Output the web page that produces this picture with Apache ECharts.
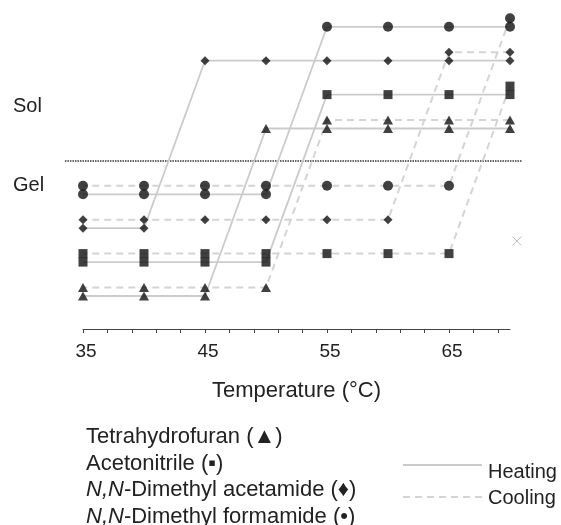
<!DOCTYPE html>
<html>
<head>
<meta charset="utf-8">
<script src="https://cdn.jsdelivr.net/npm/echarts@6/dist/echarts.min.js"></script>
<style>
  html, body { margin: 0; padding: 0; background: #fff; }
  #chart { width: 561px; height: 525px; }
</style>
</head>
<body>
<div id="chart"></div>
<script>
// solvents, bottom row first
const solvents    = ['Tetrahydrofuran', 'Acetonitrile', 'N,N-Dimethyl acetamide', 'N,N-Dimethyl formamide'];
const glyphs      = ['▲', '▪', '♦', '•'];
const symbols     = ['triangle', 'rect', 'diamond', 'circle'];

// temperatures (°C) where each state was observed
const heatGel = [[35, 40, 45], [35, 40, 45, 50], [35, 40], [35, 40, 45, 50]];
const heatSol = [[50, 55, 60, 65, 70], [55, 60, 65, 70], [45, 50, 55, 60, 65, 70], [55, 60, 65, 70]];
const coolSol = [[70, 65, 60, 55], [70], [70, 65], [70]];
const coolGel = [[50, 45, 40, 35], [65, 60, 55, 50, 45, 40, 35], [60, 55, 50, 45, 40, 35], [65, 60, 55, 50, 45, 40, 35]];

// stray mark at the right edge of the gel area
const strayMark = [[70.57, 55]];

const xTicks  = [35, 37, 39, 41, 43, 45, 47, 49, 51, 53, 55, 57, 59, 61, 63, 65, 67, 69];
const xLabels = [35, 45, 55, 65];

// vertical layout of the rows
const STATE_GAP  = 167.5;
const ROW_GAP    = 33.9;
const COOL_SHIFT = 8.5;
const DIVIDER    = 135;
const DIVIDER_SPAN = [33.52, 70.98];

function level(i, sol, cool) {
    return (sol ? STATE_GAP : 0) + i * ROW_GAP + (cool ? COOL_SHIFT : 0);
}

const symbolSizes = [[10, 9], [9, 9], [9, 9], [10, 10]];
const markColor = '#111';
const font = 'Liberation Sans, Arial, sans-serif';

const series = [];

solvents.forEach((name, i) => {
    const heat = heatGel[i].map(t => [t, level(i, 0, 0)])
        .concat(heatSol[i].map(t => [t, level(i, 1, 0)]));
    const cool = coolSol[i].map(t => [t, level(i, 1, 1)])
        .concat(coolGel[i].map(t => [t, level(i, 0, 1)]));

    series.push({
        type: 'line', data: heat, symbol: 'none', z: 2,
        lineStyle: { color: '#cbcbcb', width: 1.8 }
    });
    series.push({
        type: 'line', data: cool, symbol: 'none', z: 2,
        lineStyle: { color: '#d4d4d4', width: 2, type: [7, 5] }
    });
    series.push({
        type: 'scatter', data: heat.concat(cool), z: 3,
        symbol: symbols[i], symbolSize: symbolSizes[i],
        itemStyle: { color: markColor }
    });
});

series.push({
    type: 'scatter',
    data: strayMark,
    clip: false,
    symbol: 'path://M0,0L10,10M10,0L0,10',
    symbolSize: 9,
    itemStyle: { color: 'none', borderColor: '#999', borderWidth: 0.8 },
    z: 3
});

const legendRows = [
    'Tetrahydrofuran (' + glyphs[0] + ')',
    'Acetonitrile (' + glyphs[1] + ')',
    '{i|N,N}-Dimethyl acetamide (' + glyphs[2] + ')',
    '{i|N,N}-Dimethyl formamide (' + glyphs[3] + ')'
];

const graphic = legendRows.map((txt, k) => ({
    type: 'text',
    left: 86,
    top: 426 + k * 26.5,
    style: {
        text: txt,
        font: '22px ' + font,
        fill: '#222',
        rich: { i: { fontStyle: 'italic', fontSize: 22, fontFamily: font, fill: '#222' } }
    }
}));

graphic.push(
    { type: 'line', shape: { x1: 403, y1: 465, x2: 482, y2: 465 },
      style: { stroke: '#cbcbcb', lineWidth: 1.8 } },
    { type: 'line', shape: { x1: 403, y1: 497, x2: 482, y2: 497 },
      style: { stroke: '#d4d4d4', lineWidth: 2, lineDash: [7, 5] } },
    { type: 'text', left: 488, top: 462, style: { text: 'Heating', font: '20px ' + font, fill: '#222' } },
    { type: 'text', left: 488, top: 488, style: { text: 'Cooling', font: '20px ' + font, fill: '#222' } }
);

const chart = echarts.init(document.getElementById('chart'));
chart.setOption({
    animation: false,
    backgroundColor: '#fff',
    grid: { left: 83, width: 427, top: 0, height: 329 },
    xAxis: {
        type: 'value',
        min: 35,
        max: 70,
        name: 'Temperature (°C)',
        nameLocation: 'middle',
        nameGap: 51,
        nameTextStyle: { fontSize: 22, fontFamily: font, color: '#222' },
        axisLine: { onZero: false, lineStyle: { color: '#444', width: 1 } },
        axisTick: { customValues: xTicks, length: 4, lineStyle: { color: '#444' } },
        axisLabel: {
            customValues: xLabels,
            fontSize: 19, fontFamily: font, color: '#222',
            margin: 13, padding: [0, 0, 0, 6]
        },
        splitLine: { show: false }
    },
    yAxis: {
        type: 'value',
        min: -33,
        max: 296,
        axisLine: { show: false },
        axisTick: { show: false },
        splitLine: { show: false },
        axisLabel: {
            customValues: [110.5, 190],
            formatter: v => (v > DIVIDER ? 'Sol' : 'Gel'),
            align: 'left',
            margin: 70,
            fontSize: 20, fontFamily: font, color: '#222'
        }
    },
    graphic: graphic,
    series: series
});

// dotted Sol/Gel divider, placed through the axes, reaching past the plot edges
const p0 = chart.convertToPixel({ gridIndex: 0 }, [DIVIDER_SPAN[0], DIVIDER]);
const p1 = chart.convertToPixel({ gridIndex: 0 }, [DIVIDER_SPAN[1], DIVIDER]);
graphic.push({
    type: 'line', z: 1, silent: true,
    shape: { x1: p0[0], y1: p0[1], x2: p1[0], y2: p1[1] },
    style: { stroke: '#333', lineWidth: 1.5, lineDash: [1.5, 1] }
});
chart.setOption({ graphic: graphic });
</script>
</body>
</html>
